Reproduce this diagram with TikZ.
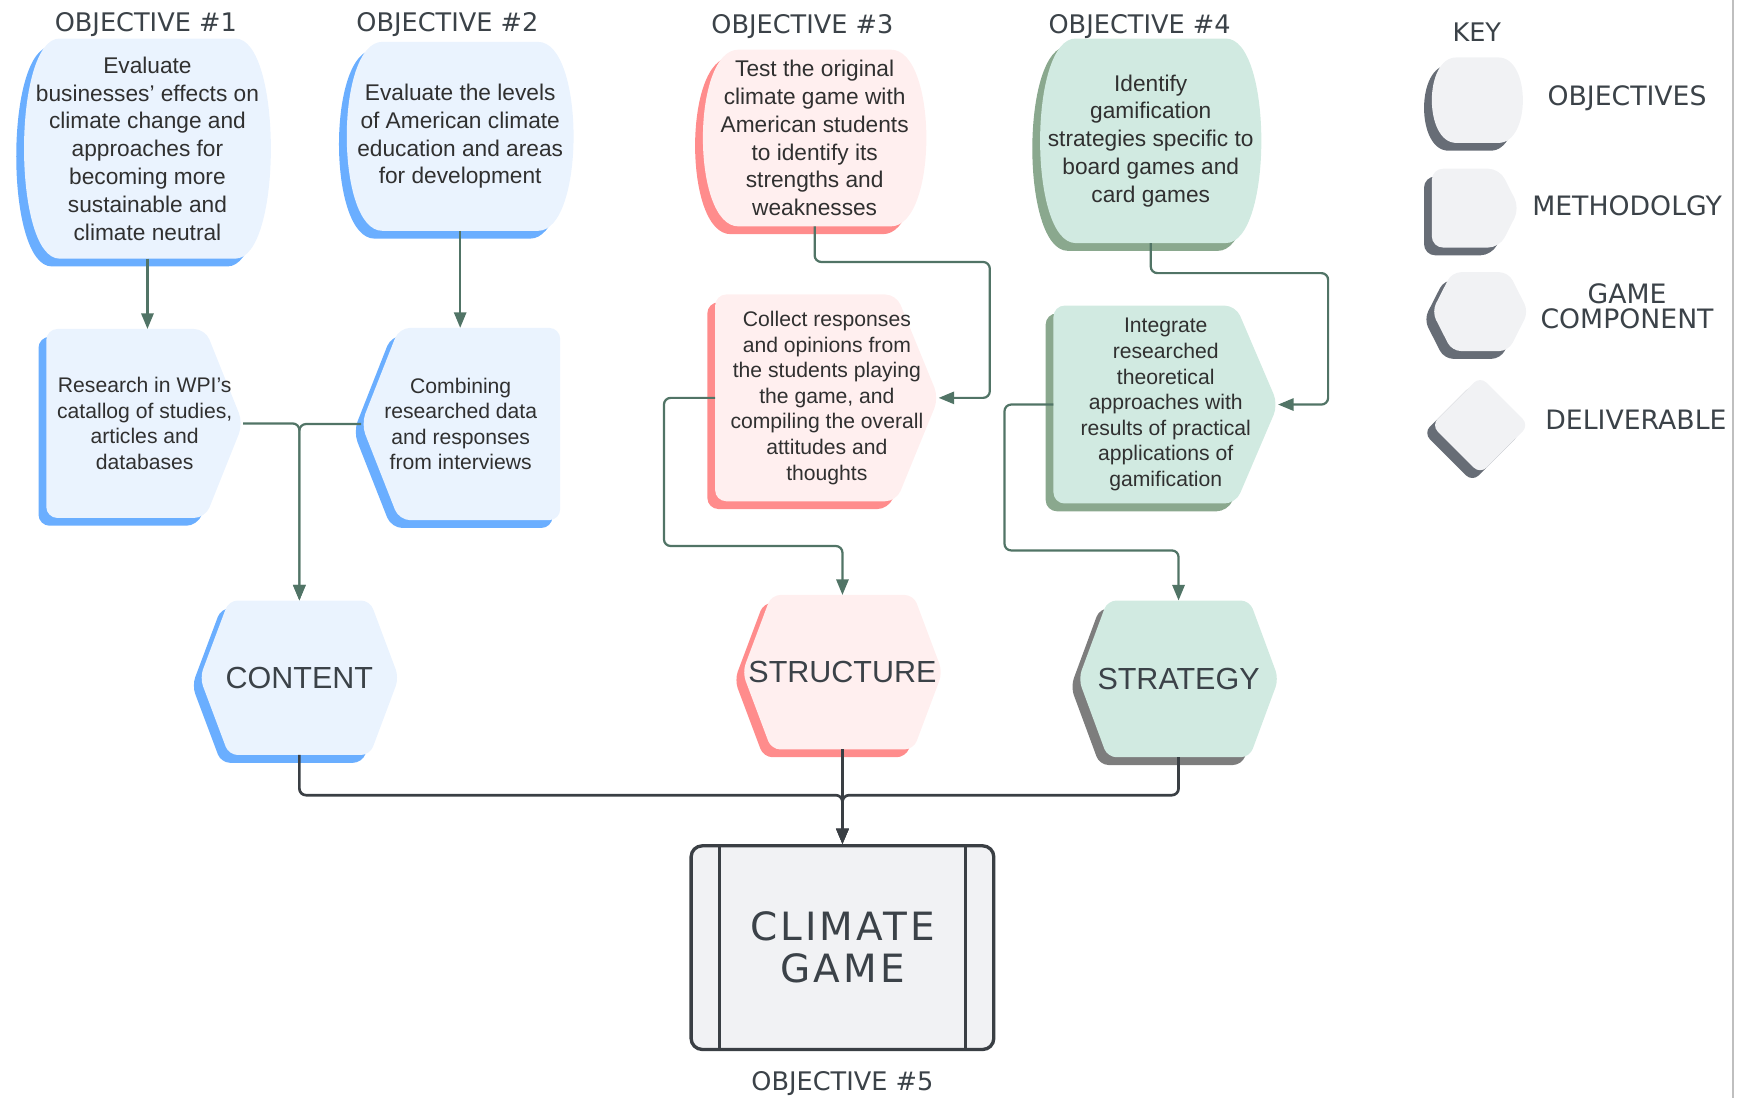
\documentclass[tikz,border=0pt]{standalone}
\usepackage{fontspec}
\setmainfont{Liberation Sans}
\newfontfamily\headfont{DejaVu Sans}
\newfontfamily\gamefont[LetterSpace=8]{DejaVu Sans}
\usetikzlibrary{arrows.meta,calc,backgrounds,shadows,shapes.geometric}

\definecolor{bluefill}{HTML}{EAF3FE}
\definecolor{blueshade}{HTML}{6AAEFF}
\definecolor{redfill}{HTML}{FFEFEF}
\definecolor{redshade}{HTML}{FF8C8C}
\definecolor{greenfill}{HTML}{D1EAE1}
\definecolor{greenshade}{HTML}{8AA88E}
\definecolor{grayshade}{HTML}{7D7D7D}
\definecolor{keyfill}{HTML}{F1F2F4}
\definecolor{keyshade}{HTML}{676D76}
\definecolor{linkgreen}{HTML}{517466}
\definecolor{linkdark}{HTML}{3A3F44}
\definecolor{txt}{HTML}{303030}
\definecolor{headtxt}{HTML}{3B4248}

\newcommand\barrelbg[3][16pt]{%
  \path[#3] let \p1=(#2.south west), \p2=(#2.north east) in
    (\x1+#1,\y2) -- (\x2-#1,\y2)
    .. controls (\x2+#1/3,\y2) and (\x2+#1/3,\y1) .. (\x2-#1,\y1)
    -- (\x1+#1,\y1)
    .. controls (\x1-#1/3,\y1) and (\x1-#1/3,\y2) .. (\x1+#1,\y2) -- cycle;}
\newcommand\pointrbg[3][17pt]{%
  \path[#3, rounded corners=5pt] let \p1=(#2.south west), \p2=(#2.north east), \p3=(#2.east) in
    (\x1,\y3) -- (\x1,\y2) -- (\x2-#1,\y2) -- (\x2,\y3)
    -- (\x2-#1,\y1) -- (\x1,\y1) -- cycle;}
\newcommand\pointlbg[3][17pt]{%
  \path[#3, rounded corners=5pt] let \p1=(#2.south west), \p2=(#2.north east), \p3=(#2.west) in
    (\x2,\y3) -- (\x2,\y2) -- (\x1+#1,\y2) -- (\x1,\y3)
    -- (\x1+#1,\y1) -- (\x2,\y1) -- cycle;}
\newcommand\hexbg[3][13pt]{%
  \path[#3, rounded corners=4pt] let \p1=(#2.south west), \p2=(#2.north east), \p3=(#2.west) in
    ({(\x1+\x2)/2},\y2) -- (\x2-#1,\y2) -- (\x2,\y3) -- (\x2-#1,\y1)
    -- (\x1+#1,\y1) -- (\x1,\y3) -- (\x1+#1,\y2) -- cycle;}

\begin{document}
\begin{tikzpicture}[
    x=0.5pt, y=-0.5pt,
    objtext/.style={align=center, inner sep=0pt, text=txt,
      font=\fontsize{10.2}{12.5}\selectfont},
    methtext/.style={objtext, font=\fontsize{9.5}{11.5}\selectfont},
    comptext/.style={inner sep=0pt, text=headtxt,
      font=\fontsize{13.7}{16}\selectfont},
    hdr/.style={text=headtxt, font=\headfont\fontsize{11.5}{13}\selectfont},
    keylabel/.style={hdr, align=center, font=\headfont\fontsize{12}{11}\selectfont},
    keynode/.style={inner sep=0pt},
    blueshape/.style={fill=bluefill,
      general shadow={fill=blueshade, shadow xshift=-3.5pt, shadow yshift=-3.5pt}},
    redshape/.style={fill=redfill,
      general shadow={fill=redshade, shadow xshift=-3.5pt, shadow yshift=-3.5pt}},
    greenshape/.style={fill=greenfill,
      general shadow={fill=greenshade, shadow xshift=-3.5pt, shadow yshift=-3.5pt}},
    stratshape/.style={fill=greenfill,
      general shadow={fill=grayshade, shadow xshift=-3.5pt, shadow yshift=-3.5pt}},
    keyshape/.style={fill=keyfill,
      general shadow={fill=keyshade, shadow xshift=-3.5pt, shadow yshift=-3.5pt}},
    link/.style={draw=linkgreen, line width=1pt, rounded corners=3pt,
      -{Triangle[length=7pt,width=5.5pt]}},
    darklink/.style={link, draw=linkdark, line width=1.2pt},
    deliv/.style={draw=linkdark, line width=1.5pt, fill=keyfill, rounded corners=5pt,
      text=headtxt, align=center, font=\gamefont\fontsize{17.5}{19}\selectfont},
  ]
    \useasboundingbox (0,0) rectangle (1568,987);

    \node [hdr] (h1) at (131,22) {OBJECTIVE \#1};
    \node [hdr] (h2) at (402,22) {OBJECTIVE \#2};
    \node [hdr] (h3) at (721,24) {OBJECTIVE \#3};
    \node [hdr] (h4) at (1024,24) {OBJECTIVE \#4};
    \node [hdr] (h5) at (757,974) {OBJECTIVE \#5};

    \node [objtext, minimum width=110.5pt, minimum height=98.5pt] (obj1) at (132.5,133.5)
      {Evaluate\\businesses' effects on\\climate change and\\approaches for\\becoming more\\sustainable and\\climate neutral};
    \node [objtext, minimum width=101.5pt, minimum height=84.5pt] (obj2) at (413.5,122.5)
      {Evaluate the levels\\of American climate\\education and areas\\for development};
    \node [objtext, minimum width=100pt, minimum height=79pt] (obj3) at (732,124)
      {Test the original\\climate game with\\American students\\to identify its\\strengths and\\weaknesses};
    \node [objtext, minimum width=99pt, minimum height=91.5pt] (obj4) at (1034,126.5)
      {Identify\\gamification\\strategies specific to\\board games and\\card games};

    \node [methtext, minimum width=88pt, minimum height=84.5pt] (meth1) at (130,380.5)
      {Research in WPI's\\catallog of studies,\\articles and\\databases};
    \node [methtext, minimum width=89pt, minimum height=86pt] (meth2) at (414,381)
      {Combining\\researched data\\and responses\\from interviews};
    \node [methtext, minimum width=100pt, minimum height=92.5pt] (meth3) at (743,357.5)
      {Collect responses\\and opinions from\\the students playing\\the game, and\\compiling the overall\\attitudes and\\thoughts};
    \node [methtext, minimum width=100.5pt, minimum height=88.5pt] (meth4) at (1047.5,363.5)
      {Integrate\\researched\\theoretical\\approaches with\\results of practical\\applications of\\gamification};

    \node [comptext, minimum width=89pt, minimum height=69pt] (content) at (269,609) {CONTENT};
    \node [comptext, minimum width=89.5pt, minimum height=69pt] (structure) at (757,604) {STRUCTURE};
    \node [comptext, minimum width=89.5pt, minimum height=70pt] (strategy) at (1059,610) {STRATEGY};

    \node [deliv, minimum width=136pt, minimum height=91.5pt] (game) at (757,851.5) {CLIMATE\\GAME};
    \draw [linkdark, line width=1.5pt] ($(game.north west)+(27,0)$) -- ($(game.south west)+(27,0)$);
    \draw [linkdark, line width=1.5pt] ($(game.north east)+(-27,0)$) -- ($(game.south east)+(-27,0)$);

    \node [hdr] (key) at (1327,29) {KEY};
    \node [keynode, minimum width=40.5pt, minimum height=38pt] (k1) at (1327.5,90) {};
    \node [keynode, minimum width=39pt, minimum height=35pt] (k2) at (1326,187) {};
    \node [keynode, minimum width=43pt, minimum height=35pt] (k3) at (1330,280) {};
    \node [keynode, diamond, keyshape, minimum width=44pt, minimum height=44pt,
      rounded corners=4pt] (k4) at (1330,382) {};
    \node [keylabel] (l1) at (1462,88) {OBJECTIVES};
    \node [keylabel] (l2) at (1462,185) {METHODOLGY};
    \node [keylabel] (l3) at (1462,275) {GAME\\COMPONENT};
    \node [keylabel] (l4) at (1470,377) {DELIVERABLE};

    \begin{pgfonlayer}{background}
      \barrelbg{obj1}{blueshape}
      \barrelbg{obj2}{blueshape}
      \barrelbg{obj3}{redshape}
      \barrelbg{obj4}{greenshape}
      \pointrbg{meth1}{blueshape}
      \pointlbg{meth2}{blueshape}
      \pointrbg[19pt]{meth3}{redshape}
      \pointrbg[19pt]{meth4}{greenshape}
      \hexbg{content}{blueshape}
      \hexbg{structure}{redshape}
      \hexbg{strategy}{stratshape}
      \barrelbg[11pt]{k1}{keyshape}
      \pointrbg[9pt]{k2}{keyshape}
      \hexbg[9pt]{k3}{keyshape}
    \end{pgfonlayer}

    \draw [link] (obj1.south) -- (obj1.south |- meth1.north);
    \draw [link] (obj2.south) -- (obj2.south |- meth2.north);
    \draw [link] (meth1.east) -| (content.north);
    \draw [link] (meth2.west) -| (content.north);
    \draw [link] (obj3.south) -- ++(0,32) -| ($(meth3.east)+(46,0)$) -- (meth3.east);
    \draw [link] (obj4.south) -- ++(0,27) -| ($(meth4.east)+(45,0)$) -- (meth4.east);
    \draw [link] (meth3.west) -- ++(-46,0) |- ($(structure.north)+(0,-44)$) -- (structure.north);
    \draw [link] (meth4.west) -- ++(-44,0) |- ($(strategy.north)+(0,-45)$) -- (strategy.north);

    \draw [darklink] (content.south) |- ($(game.north)+(0,-44)$) -- (game.north);
    \draw [darklink] (strategy.south) |- ($(game.north)+(0,-44)$) -- (game.north);
    \draw [darklink] (structure.south) -- (game.north);

    \draw [black!25, line width=0.8pt] (1557,0) -- (1557,987);
\end{tikzpicture}
\end{document}
